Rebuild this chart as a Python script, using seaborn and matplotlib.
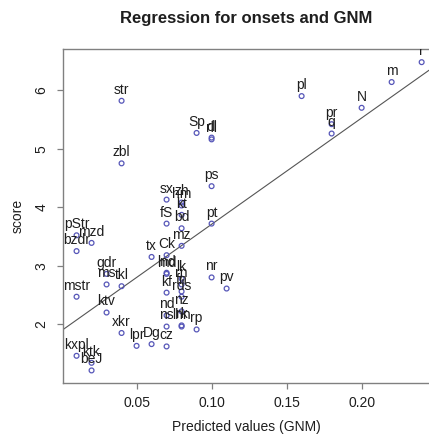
import matplotlib
matplotlib.use("Agg")
import matplotlib.pyplot as plt
import seaborn as sns
import pandas as pd

# ---- data ----
labels = ["pStr", "bzdr", "mstr", "kxpl", "mzd", "ktk", "beJ",
          "gdr", "ms", "ktv", "str", "zbl", "tkl", "xkr", "lpr",
          "tx", "Dg", "sx", "fS", "Ck", "lnd", "md", "kf", "nd", "ns", "cz",
          "zh", "hm", "kt", "bd", "mz", "lk", "rn", "fn", "rds", "nz", "rk", "lhn",
          "Sp", "rp", "dl", "rll", "ps", "pt", "nr", "pv",
          "pl", "pr", "q", "N", "m", "r"]
gnm = [0.01, 0.01, 0.01, 0.01, 0.02, 0.02, 0.02,
       0.03, 0.03, 0.03, 0.04, 0.04, 0.04, 0.04, 0.05,
       0.06, 0.06, 0.07, 0.07, 0.07, 0.07, 0.07, 0.07, 0.07, 0.07, 0.07,
       0.08, 0.08, 0.08, 0.08, 0.08, 0.08, 0.08, 0.08, 0.08, 0.08, 0.08, 0.08,
       0.09, 0.09, 0.10, 0.10, 0.10, 0.10, 0.10, 0.11,
       0.16, 0.18, 0.18, 0.20, 0.22, 0.24]
score = [3.52, 3.25, 2.47, 1.46, 3.39, 1.34, 1.21,
         2.86, 2.68, 2.20, 5.82, 4.75, 2.65, 1.85, 1.63,
         3.15, 1.66, 4.13, 3.72, 3.18, 2.88, 2.86, 2.54, 2.15, 1.96, 1.62,
         4.08, 4.03, 3.87, 3.64, 3.34, 2.78, 2.68, 2.56, 2.47, 2.22, 1.98, 1.96,
         5.27, 1.91, 5.19, 5.16, 4.36, 3.72, 2.80, 2.61,
         5.90, 5.42, 5.26, 5.70, 6.14, 6.48]

x_ticks = [0.05, 0.10, 0.15, 0.20]
x_tick_labels = ["0.05", "0.10", "0.15", "0.20"]
y_ticks = [2, 3, 4, 5, 6]
y_tick_labels = ["2", "3", "4", "5", "6"]

title = "Regression for onsets and GNM"
x_label = "Predicted values (GNM)"
y_label = "score"

df = pd.DataFrame({"label": labels, "gnm": gnm, "score": score})

sns.set_theme(style="white")
plt.rcParams["font.family"] = ["Liberation Sans", "DejaVu Sans"]

W, H = 429, 434
fig = plt.figure(figsize=(W / 100, H / 100), dpi=100)
ax = fig.add_axes([63.2 / W, 50.7 / H, 1 - 63.2 / W, 334 / H])
ax.set_xlim(0.0011, 0.2449)
ax.set_ylim(0.99, 6.70)

sns.regplot(data=df, x="gnm", y="score", ax=ax, ci=None, truncate=False,
            scatter=False, line_kws=dict(color="#555555", lw=0.8))
sns.scatterplot(data=df, x="gnm", y="score", ax=ax, marker="o", s=12,
                color="none", edgecolor="#5656b8", linewidth=0.9, zorder=3)

for lab, xv, yv in zip(df["label"], df["gnm"], df["score"]):
    ax.annotate(lab, (xv, yv), xytext=(0, 8), textcoords="offset points",
                ha="center", va="center", fontsize=10, color="#1e1e1e",
                clip_on=True)

ax.set_xticks(x_ticks)
ax.set_xticklabels(x_tick_labels)
ax.set_yticks(y_ticks)
ax.set_yticklabels(y_tick_labels)
ax.tick_params(axis="both", direction="out", length=4.5, width=0.9,
               color="#808080", labelsize=10, labelcolor="#1e1e1e",
               bottom=True, left=True)
ax.tick_params(axis="x", pad=5)
ax.tick_params(axis="y", pad=6, labelrotation=90)
for t in ax.get_yticklabels():
    t.set_va("center")

for side in ["left", "top", "bottom"]:
    ax.spines[side].set_visible(True)
    ax.spines[side].set_color("#808080")
    ax.spines[side].set_linewidth(1.0)
ax.spines["right"].set_visible(False)

ax.set_xlabel(x_label, fontsize=10, color="#1e1e1e", va="center")
ax.xaxis.set_label_coords(0.502, -0.13)
ax.set_ylabel(y_label, fontsize=10, color="#1e1e1e", va="center")
ax.yaxis.set_label_coords(-0.1236, 0.5)
ax.set_title(title, fontsize=12, fontweight="bold", color="#1e1e1e",
             y=1.0937, pad=0, va="center")

fig.savefig("out.png", dpi=100)
